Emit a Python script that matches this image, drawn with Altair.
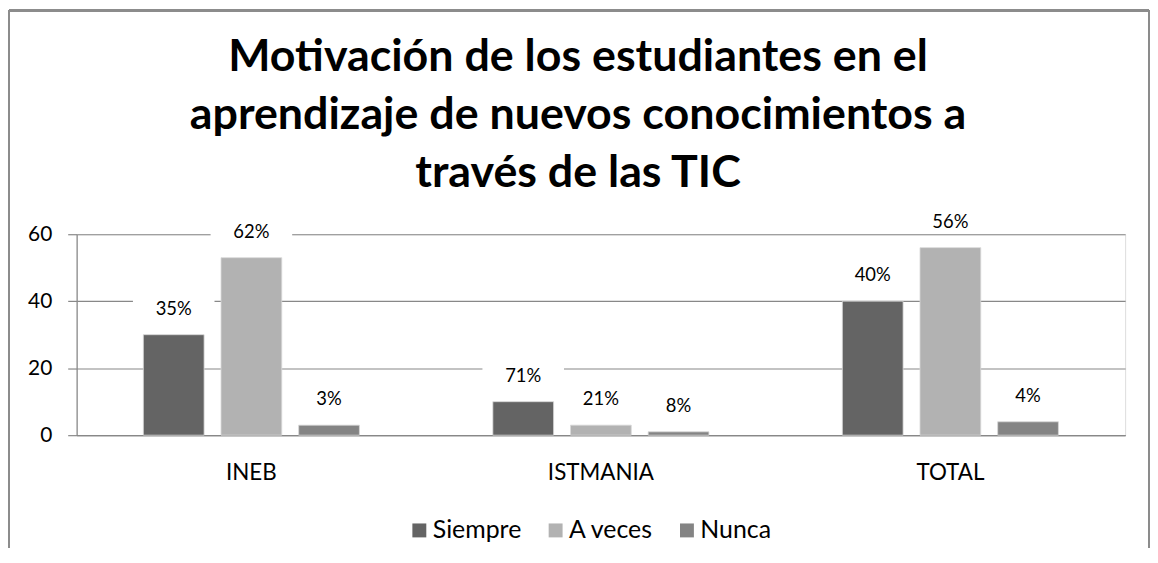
import altair as alt
import pandas as pd

categories = ["INEB", "ISTMANIA", "TOTAL"]
series = ["Siempre", "A veces", "Nunca"]
siempre = [30, 10, 40]
a_veces = [53, 3, 56]
nunca = [3, 1, 4]
siempre_lbl = ["35%", "71%", "40%"]
a_veces_lbl = ["62%", "21%", "56%"]
nunca_lbl = ["3%", "8%", "4%"]
colors = ["#646464", "#b2b2b2", "#848484"]
y_ticks = [0, 20, 40, 60]
title_lines = [
    "Motivación de los estudiantes en el",
    "aprendizaje de nuevos conocimientos a",
    "través de las TIC",
]

rows = []
for s, vals, lbls in zip(series, [siempre, a_veces, nunca], [siempre_lbl, a_veces_lbl, nunca_lbl]):
    for c, v, l in zip(categories, vals, lbls):
        rows.append({"cat": c, "serie": s, "valor": v, "etiqueta": l})
df = pd.DataFrame(rows)

FONT = "Lato"
GRID = "#888888"

x_enc = alt.X(
    "cat:N",
    sort=categories,
    scale=alt.Scale(paddingInner=0, paddingOuter=0),
    axis=alt.Axis(
        title=None, labelAngle=0, ticks=False, domain=True, domainColor=GRID,
        domainWidth=1.2, labelFontSize=22.5, labelFont=FONT, labelColor="#000000",
        labelPadding=27, grid=False,
    ),
)
xoff = alt.XOffset("serie:N", sort=series, scale=alt.Scale(paddingInner=0.218, paddingOuter=0.859))
y_enc = alt.Y(
    "valor:Q",
    scale=alt.Scale(domain=[0, 60], nice=False),
    axis=alt.Axis(
        title=None, values=y_ticks, grid=True, gridColor=GRID, gridWidth=1.2,
        domain=True, domainColor=GRID, domainWidth=1.2, ticks=True, tickSize=9,
        tickColor=GRID, tickWidth=1.2, labelFontSize=21, labelFont=FONT,
        labelColor="#000000", labelPadding=16,
    ),
)

bars = alt.Chart(df).mark_bar(stroke="#d8d8d8", strokeWidth=0.8).encode(
    x=x_enc,
    xOffset=xoff,
    y=y_enc,
    color=alt.Color(
        "serie:N",
        sort=series,
        scale=alt.Scale(domain=series, range=colors),
        legend=alt.Legend(
            title=None, orient="none", legendX=332, legendY=285, direction="horizontal",
            symbolType="square", symbolSize=196, symbolStrokeWidth=0,
            labelFontSize=25, labelFont=FONT, labelColor="#000000",
            columnPadding=21, labelOffset=1,
        ),
    ),
)

boxes = alt.Chart(df).mark_point(
    shape="M-1,-0.3L1,-0.3L1,0.3L-1,0.3Z", size=6724, filled=True,
    color="white", opacity=1, yOffset=-26,
).encode(x=alt.X("cat:N", sort=categories), xOffset=alt.XOffset("serie:N", sort=series), y="valor:Q")

labels = alt.Chart(df).mark_text(
    dy=-26, fontSize=18.5, font=FONT, color="#000000", baseline="middle",
).encode(
    x=alt.X("cat:N", sort=categories),
    xOffset=alt.XOffset("serie:N", sort=series),
    y="valor:Q",
    text="etiqueta:N",
)

frame_top = alt.Chart(df).mark_rule(color="#8c8c8c", strokeWidth=2).encode(
    x=alt.value(-68), x2=alt.value(1078), y=alt.value(-225)
)
frame_left = alt.Chart(df).mark_rule(color="#8c8c8c", strokeWidth=2).encode(
    x=alt.value(-68), y=alt.value(-225), y2=alt.value(320)
)
frame_right = alt.Chart(df).mark_rule(color="#8c8c8c", strokeWidth=2).encode(
    x=alt.value(1078), y=alt.value(-225), y2=alt.value(320)
)

chart = alt.layer(bars, boxes, labels, frame_top, frame_left, frame_right).resolve_scale(
    color="shared"
).properties(
    width=1054,
    height=202,
    padding={"left": 69, "top": 226, "right": 25, "bottom": 112},
    autosize=alt.AutoSizeParams(type="none"),
    title=alt.TitleParams(
        text=title_lines, fontSize=45, font=FONT, fontWeight="bold", color="#000000",
        anchor="middle", frame="group", dx=-23, offset=-188, lineHeight=58.5,
    ),
).configure_view(stroke=None).configure(background="white")

chart.save("out.html", embed_options={"renderer": "svg", "actions": False})
